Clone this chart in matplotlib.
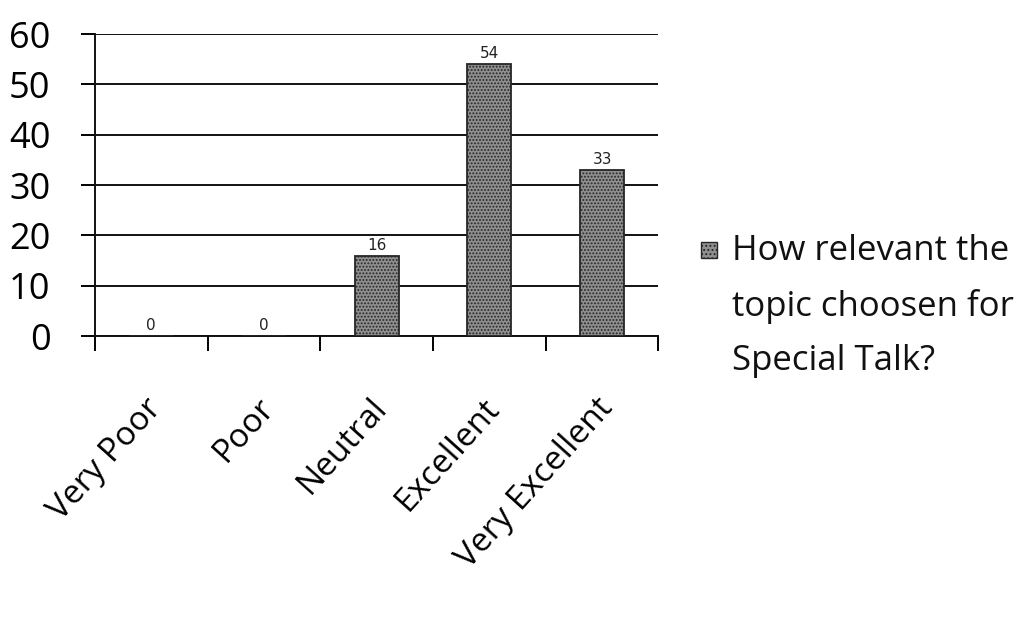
import matplotlib
matplotlib.use('Agg')
import matplotlib.pyplot as plt
import matplotlib.patches as patches
import matplotlib.transforms as mtransforms
import numpy as np

categories = ['Very Poor', 'Poor', 'Neutral', 'Excellent', 'Very Excellent']
values = [0, 0, 16, 54, 33]
series_name = 'How relevant the\ntopic choosen for\nSpecial Talk?'
yticks = [0, 10, 20, 30, 40, 50, 60]

BAR_FACE = '#8f8f8f'
BAR_EDGE = '#262626'

plt.rcParams['font.family'] = ['Open Sans', 'DejaVu Sans']
plt.rcParams['hatch.linewidth'] = 0.9

fig = plt.figure(figsize=(10.32, 6.19), dpi=100)
ax = fig.add_axes([0.092, 0.457, 0.546, 0.488])

x = np.arange(len(categories))
ax.bar(x, values, width=0.39, facecolor=BAR_FACE, edgecolor=BAR_EDGE,
       hatch='.....', linewidth=1.3, zorder=3)

# value labels (handwritten on the original)
for xi, v in zip(x, values):
    ax.text(xi, v + 0.6, str(v), ha='center', va='bottom', fontsize=11,
            family='DejaVu Sans', color='#222222', zorder=4)

ax.set_xlim(-0.5, len(categories) - 0.5)
ax.set_ylim(0, 60)
ax.set_yticks(yticks)
ax.yaxis.grid(True, color='#111111', linewidth=1.4, zorder=0)
ax.tick_params(axis='y', labelsize=26, length=10, width=1.4, pad=22)

ax.set_xticks(x)
ax.set_xticklabels(categories, rotation=48, ha='right', va='top',
                   rotation_mode='anchor')
ax.tick_params(axis='x', which='major', length=0, labelsize=24, pad=40)
ax.set_xticks(np.arange(-0.5, len(categories)), minor=True)
ax.tick_params(axis='x', which='minor', length=11, width=1.4, direction='out')
shift = mtransforms.ScaledTranslation(-0.07, 0, fig.dpi_scale_trans)
for lab in ax.get_xticklabels():
    lab.set_transform(lab.get_transform() + shift)

for s in ['top', 'right']:
    ax.spines[s].set_visible(False)
for s in ['left', 'bottom']:
    ax.spines[s].set_linewidth(1.4)
    ax.spines[s].set_color('#111111')

# legend drawn by hand so the key sits next to the first line
fig.patches.append(patches.Rectangle((0.679, 0.583), 0.0155, 0.026,
                                     transform=fig.transFigure,
                                     facecolor=BAR_FACE, edgecolor=BAR_EDGE,
                                     hatch='....', linewidth=1.0))
fig.text(0.709, 0.622, series_name, ha='left', va='top', fontsize=25,
         linespacing=1.78, color='#111111')

fig.savefig('out.png', dpi=100, facecolor='white')
